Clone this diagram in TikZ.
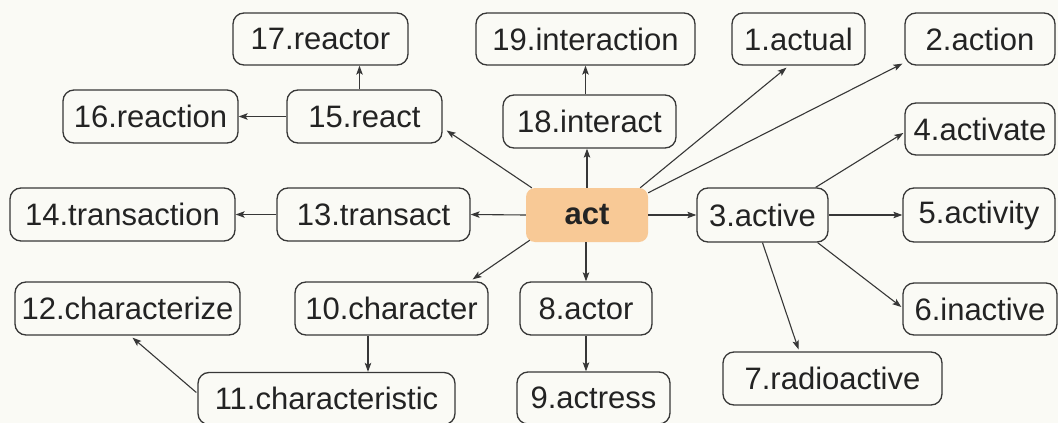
\documentclass[tikz,border=0pt]{standalone}
\usepackage{fontspec}
\setmainfont{Liberation Sans}
\usetikzlibrary{arrows.meta,calc}
\definecolor{bgcol}{RGB}{250,250,245}
\definecolor{edgecol}{RGB}{55,55,55}
\definecolor{txtcol}{RGB}{35,35,35}
\definecolor{actfill}{RGB}{248,201,150}
\begin{document}
\begin{tikzpicture}[x=1pt,y=-1pt,
  box/.style={draw=edgecol,line width=1.3pt,rounded corners=11pt,inner sep=0pt,
    text=txtcol,font=\fontsize{31}{36}\selectfont},
  hub/.style={fill=actfill,rounded corners=9pt,inner sep=0pt,text=txtcol,
    font=\fontsize{31}{36}\selectfont\bfseries},
  conn/.style={draw=edgecol,line width=1.1pt,-{Stealth[length=9pt,width=6.5pt,inset=2pt]}}]
\fill[bgcol] (0,0) rectangle (1058,423);
\useasboundingbox (0,0) rectangle (1058,423);
% nodes
\node[hub,minimum width=122,minimum height=54] (act) at (587,215) {act};
\node[box,minimum width=175,minimum height=52] (n17) at (320.5,39) {17.reactor};
\node[box,minimum width=175,minimum height=53] (n16) at (150.5,116.5) {16.reaction};
\node[box,minimum width=155,minimum height=53] (n15) at (364.5,116.5) {15.react};
\node[box,minimum width=219,minimum height=52] (n19) at (585.5,39) {19.interaction};
\node[box,minimum width=173,minimum height=53] (n18) at (589.5,121.5) {18.interact};
\node[box,minimum width=133,minimum height=52] (n1) at (798.5,39) {1.actual};
\node[box,minimum width=150,minimum height=52] (n2) at (980,39) {2.action};
\node[box,minimum width=150,minimum height=52] (n4) at (980,129) {4.activate};
\node[box,minimum width=225,minimum height=53] (n14) at (122.5,214.5) {14.transaction};
\node[box,minimum width=193,minimum height=53] (n13) at (373.5,214.5) {13.transact};
\node[box,minimum width=131,minimum height=54] (n3) at (762.5,215) {3.active};
\node[box,minimum width=152,minimum height=54] (n5) at (979,215) {5.activity};
\node[box,minimum width=154,minimum height=52] (n6) at (980,309) {6.inactive};
\node[box,minimum width=219,minimum height=53] (n7) at (832.5,378.5) {7.radioactive};
\node[box,minimum width=225,minimum height=53] (n12) at (127.5,308.5) {12.characterize};
\node[box,minimum width=193,minimum height=53] (n10) at (391.5,308.5) {10.character};
\node[box,minimum width=132,minimum height=53] (n8) at (586,308.5) {8.actor};
\node[box,minimum width=257,minimum height=52] (n11) at (326.5,398.5) {11.characteristic};
\node[box,minimum width=153,minimum height=52] (n9) at (593.5,398) {9.actress};
% connectors
\draw[conn] ($(act.north east)+(-8,0)$) -- ($(n1.south)+(-12,2)$);
\draw[conn] ($(act.north east)+(0,5)$) -- ($(n2.south west)+(-2,-2)$);
\draw[conn] ($(n3.north east)+(-13,0)$) -- ($(n4.west)+(-1,4)$);
\draw[conn] ($(act.north west)+(6,0)$) -- ($(n15.east)+(4,14)$);
\draw[conn] (act.north) -- (act.north |- n18.south);
\draw[conn] (n19.south |- n18.north) -- (n19.south);
\coordinate (r15) at ($(n15.north)+(-5,0)$);
\draw[conn] (r15) -- (r15 |- n17.south);
\draw[conn] (n15.west) -- (n16.east);
\draw[conn] (act.west) -- (n13.east);
\draw[conn] (n13.west) -- (n14.east);
\draw[conn] (act.east) -- (n3.west);
\draw[conn] (n3.east) -- (n5.west);
\draw[conn] ($(n3.south east)+(-11,0)$) -- ($(n6.west)+(-1,-2)$);
\draw[conn] (n3.south) -- ($(n7.north)+(-34,-2)$);
\draw[conn] ($(act.south west)+(4,-2)$) -- ($(n10.north east)+(-16,-2)$);
\draw[conn] (act.south -| n8.north) -- (n8.north);
\draw[conn] (n8.south) -- (n8.south |- n9.north);
\coordinate (r10) at ($(n10.south)+(-23.5,0)$);
\draw[conn] (r10) -- (r10 |- n11.north);
\draw[conn] ($(n11.west)+(-1,-6)$) -- ($(n12.south)+(5,2)$);
\end{tikzpicture}
\end{document}
